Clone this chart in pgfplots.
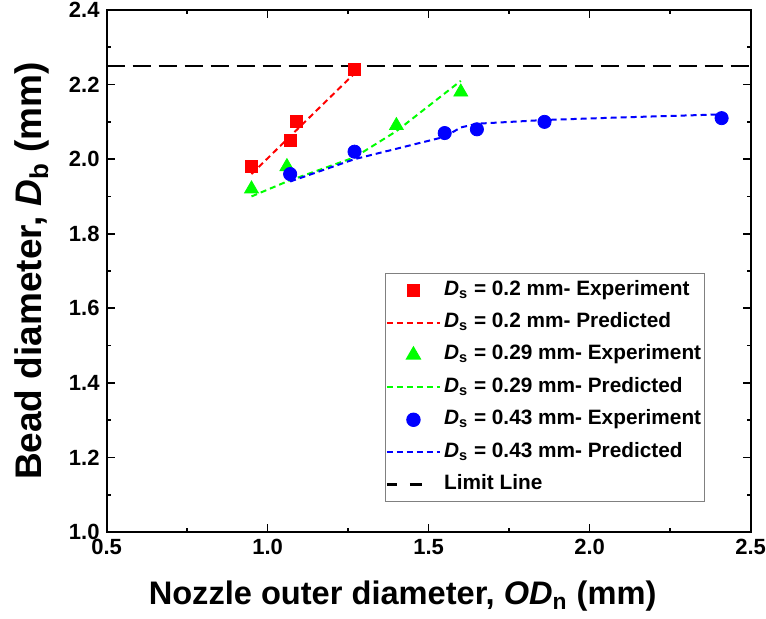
\documentclass[border=0pt]{standalone}
\usepackage{fontspec}
\setmainfont{Liberation Sans}
\usepackage{pgfplots}
\pgfplotsset{compat=1.18}

\pgfplotstableread{
x y
0.95 1.98
1.07 2.05
1.09 2.10
1.27 2.24
}\expA
\pgfplotstableread{
x y
0.95 1.96
1.27 2.23
}\predA
\pgfplotstableread{
x y
0.95 1.92
1.06 1.98
1.40 2.09
1.60 2.18
}\expB
\pgfplotstableread{
x y
0.95 1.90
1.06 1.94
1.27 2.005
1.40 2.075
1.60 2.21
}\predB
\pgfplotstableread{
x y
1.07 1.96
1.27 2.02
1.55 2.07
1.65 2.08
1.86 2.10
2.41 2.11
}\expC
\pgfplotstableread{
x y
1.07 1.94
1.27 2.00
1.55 2.06
1.60 2.085
1.65 2.095
1.86 2.105
2.10 2.112
2.41 2.12
}\predC

\begin{document}
\begin{tikzpicture}
\begin{axis}[
    width=322pt, height=261pt, scale only axis,
    xmin=0.5, xmax=2.5, ymin=1.0, ymax=2.4,
    xtick={0.5,1.0,...,2.5}, ytick={1.0,1.2,...,2.4},
    minor x tick num=1, minor y tick num=1,
    tick align=inside, major tick length=4pt, minor tick length=2pt,
    axis line style={line width=1pt}, every tick/.style={black, line width=0.8pt},
    xticklabel style={/pgf/number format/.cd, fixed, fixed zerofill, precision=1},
    yticklabel style={/pgf/number format/.cd, fixed, fixed zerofill, precision=1},
    /pgf/number format/assume math mode=true,
    ticklabel style={font=\fontsize{11}{13}\selectfont\bfseries},
    xlabel={Nozzle outer diameter, \textit{OD}\textsubscript{n} (mm)},
    ylabel={Bead diameter, \textit{D}\textsubscript{b} (mm)},
    every axis x label/.style={at={(axis description cs:0.5,0)}, anchor=base, yshift=-36pt, xshift=-13pt,
        font=\fontsize{16.3}{19}\selectfont\bfseries},
    every axis y label/.style={at={(axis description cs:-0.1165,0.5)}, anchor=center, rotate=90,
        font=\fontsize{18.5}{21}\selectfont\bfseries},
    legend image code/.code={\draw[mark repeat=2,mark phase=2,#1] plot coordinates {(0cm,0cm) (0.465cm,0cm) (0.93cm,0cm)};},
    legend style={at={(0.4326,0.497)}, anchor=north west, draw=gray, line width=0.6pt,
        font=\fontsize{10.4}{12}\selectfont\bfseries, row sep=5.2pt,
        inner xsep=0pt, inner ysep=3pt,
        nodes={inner xsep=1.5pt, inner ysep=0pt, text height=8pt, text depth=3pt}},
    legend cell align=left,
]
\addplot[only marks, mark=square*, mark size=3pt, color=red] table {\expA};
\addlegendentry{\textit{D}\textsubscript{s} = 0.2 mm- Experiment}
\addplot[red, line width=1pt, dash pattern=on 3pt off 2pt] table {\predA};
\addlegendentry{\textit{D}\textsubscript{s} = 0.2 mm- Predicted}
\addplot[only marks, mark=triangle*, mark size=4pt, color=green] table {\expB};
\addlegendentry{\textit{D}\textsubscript{s} = 0.29 mm- Experiment}
\addplot[green, line width=1pt, dash pattern=on 3pt off 2pt] table {\predB};
\addlegendentry{\textit{D}\textsubscript{s} = 0.29 mm- Predicted}
\addplot[only marks, mark=*, mark size=3.3pt, color=blue] table {\expC};
\addlegendentry{\textit{D}\textsubscript{s} = 0.43 mm- Experiment}
\addplot[blue, line width=1pt, dash pattern=on 3pt off 2pt] table {\predC};
\addlegendentry{\textit{D}\textsubscript{s} = 0.43 mm- Predicted}
\addplot[black, line width=1.2pt, dash pattern=on 9pt off 4pt,
    legend image post style={dash pattern=on 5pt off 6.5pt on 6pt off 20pt}] coordinates {(0.5,2.25) (2.5,2.25)};
\addlegendentry{Limit Line}
\end{axis}
\pgfresetboundingbox
\path[use as bounding box] (-53.3pt,-43pt) rectangle (329.7pt,266pt);
\end{tikzpicture}
\end{document}
